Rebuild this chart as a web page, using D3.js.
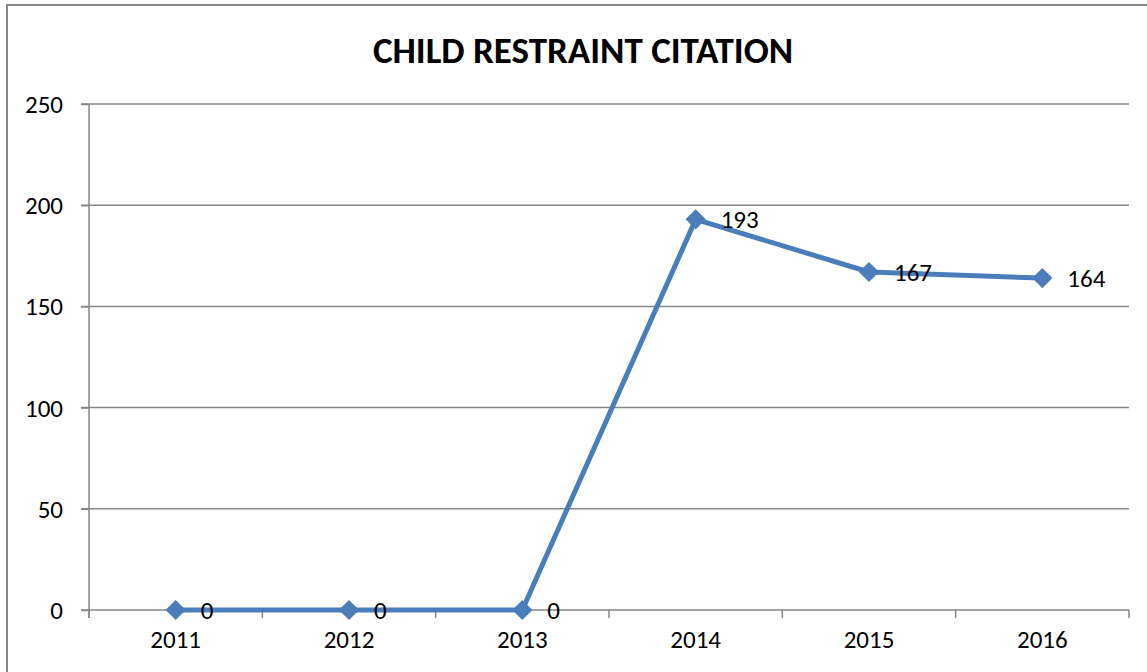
<!DOCTYPE html>
<html><head><meta charset="utf-8">
<script src="https://cdn.jsdelivr.net/npm/d3@7"></script>
<style>body{margin:0;background:#fff;} text{font-family:Carlito,Lato,"Open Sans",sans-serif;}</style>
</head><body>
<svg id="c" width="1147" height="672"></svg>
<script>
const years = ["2011","2012","2013","2014","2015","2016"];
const values = [0,0,0,193,167,164];
const yTicks = [0,50,100,150,200,250];
const title = "CHILD RESTRAINT CITATION";
const FONT = 'Carlito,Lato,"Open Sans",sans-serif';

const svg = d3.select("#c");
svg.append("rect").attr("x",7).attr("y",5).attr("width",1150).attr("height",680)
  .attr("fill","#fff").attr("stroke","#868686").attr("stroke-width",2);

const L=89,R=1129,T=104,B=610;
const x = d3.scaleBand().domain(years).range([L,R]);
const y = d3.scaleLinear().domain([0,250]).range([B,T]);

svg.append("text").attr("x",583).attr("y",63).attr("text-anchor","middle")
  .attr("font-size",37).attr("font-weight","bold").text(title);

svg.append("g").selectAll("line").data(yTicks).join("line")
  .attr("x1",L-8).attr("x2",R).attr("y1",d=>y(d)).attr("y2",d=>y(d))
  .attr("stroke","#868686").attr("stroke-width",1.5);

const ya = svg.append("g").attr("transform",`translate(${L},0)`)
  .call(d3.axisLeft(y).tickValues(yTicks).tickSize(8).tickPadding(18));
ya.select(".domain").attr("stroke","#868686").attr("stroke-width",1.5).attr("d",`M-0,${T}V${B+8}`);
ya.selectAll(".tick line").attr("stroke","#868686").attr("stroke-width",1.5);
ya.selectAll("text").attr("font-size",25).attr("fill","#000").attr("dy","0.34em").style("font-family",FONT);

const xa = svg.append("g").attr("transform",`translate(0,${B})`)
  .call(d3.axisBottom(x).tickSize(0).tickPadding(20));
xa.select(".domain").remove();
xa.selectAll("text").attr("font-size",25).attr("fill","#000").style("font-family",FONT);
const bounds = years.map(d=>x(d)).concat([R]);
svg.append("g").selectAll("line").data(bounds).join("line")
  .attr("x1",d=>d).attr("x2",d=>d).attr("y1",B).attr("y2",B+8)
  .attr("stroke","#868686").attr("stroke-width",1.5);

const cx = d=>x(d)+x.bandwidth()/2;
const pts = years.map((d,i)=>({year:d,v:values[i]}));
svg.append("path").datum(pts)
  .attr("d",d3.line().x(d=>cx(d.year)).y(d=>y(d.v)))
  .attr("fill","none").attr("stroke","#4a7ebb").attr("stroke-width",5).attr("stroke-linejoin","round");

svg.append("g").selectAll("path").data(pts).join("path")
  .attr("transform",d=>`translate(${cx(d.year)},${y(d.v)})`)
  .attr("d",d3.symbol().type(d3.symbolDiamond2).size(260))
  .attr("fill","#4a7ebb");

svg.append("g").selectAll("text").data(pts).join("text")
  .attr("x",d=>cx(d.year)+25).attr("y",d=>y(d.v)+9)
  .attr("font-size",25).attr("fill","#000").text(d=>d.v);
</script>
</body></html>
